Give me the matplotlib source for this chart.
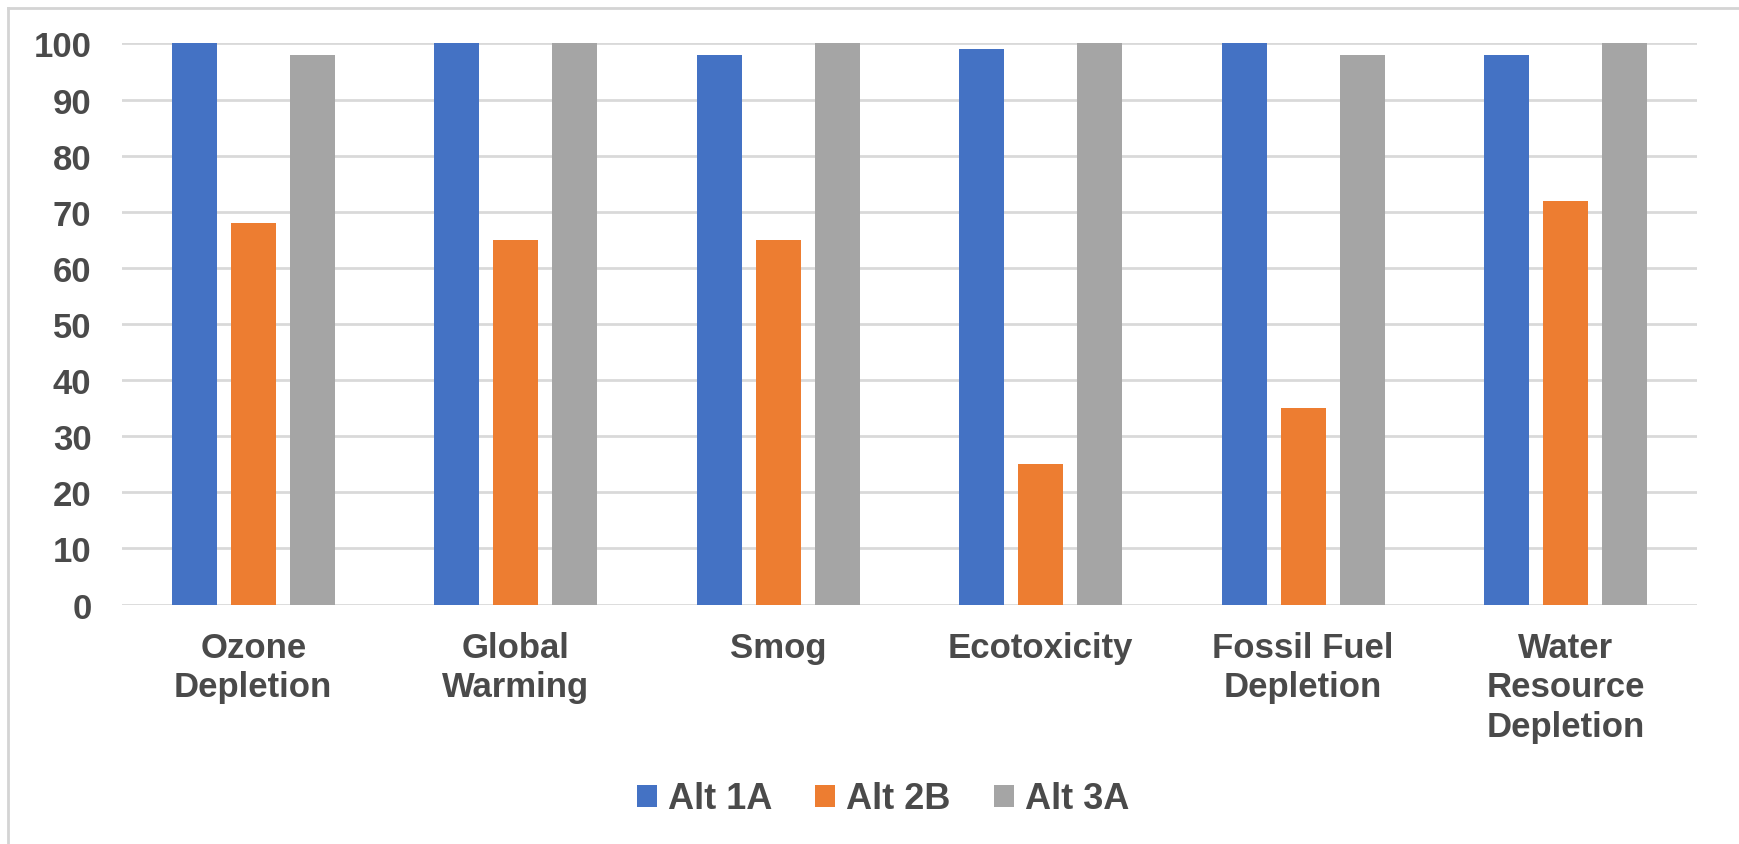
import numpy as np
import matplotlib
matplotlib.use("Agg")
import matplotlib.pyplot as plt
from matplotlib.patches import Patch
from matplotlib.lines import Line2D

# data
categories = ["Ozone\nDepletion", "Global\nWarming", "Smog", "Ecotoxicity",
              "Fossil Fuel\nDepletion", "Water\nResource\nDepletion"]
series_names = ["Alt 1A", "Alt 2B", "Alt 3A"]
alt_1a = [100, 100, 98, 99, 100, 98]
alt_2b = [68, 65, 65, 25, 35, 72]
alt_3a = [98, 100, 100, 100, 98, 100]
y_ticks = [0, 10, 20, 30, 40, 50, 60, 70, 80, 90, 100]

colors = ["#4472C4", "#ED7D31", "#A5A5A5"]
text_color = "#4a4a4a"
plt.rcParams["font.family"] = ["Liberation Sans", "DejaVu Sans"]
plt.rcParams["font.weight"] = "bold"

fig = plt.figure(figsize=(17.39, 8.45), dpi=100)
fig.patch.set_facecolor("white")
ax = fig.add_axes([122 / 1739, 239.4 / 845, 1575 / 1739, 561.2 / 845])

x = np.arange(len(categories))
width = 0.172
offset = 0.225
for i, (vals, name) in enumerate(zip([alt_1a, alt_2b, alt_3a], series_names)):
    ax.bar(x + (i - 1) * offset, vals, width, color=colors[i], label=name, zorder=3)

ax.set_xlim(-0.5, len(categories) - 0.5)
ax.set_ylim(0, 100)
ax.set_yticks(y_ticks)
ax.set_xticks(x)
ax.set_xticklabels(categories, linespacing=1.25)
ax.yaxis.grid(True, color="#d9d9d9", linewidth=2, zorder=0)
ax.set_axisbelow(True)
for s in ax.spines.values():
    s.set_visible(False)
ax.tick_params(axis="y", length=0, pad=22, labelsize=25, labelcolor=text_color)
ax.tick_params(axis="x", length=0, pad=19, labelsize=25, labelcolor=text_color)

handles = [Patch(facecolor=c, edgecolor="none") for c in colors]
leg = fig.legend(handles, series_names, loc="center", bbox_to_anchor=(883 / 1739, 1 - 800 / 845),
                 ncol=3, frameon=False, fontsize=26, handlelength=0.55, handleheight=0.55,
                 handletextpad=0.3, columnspacing=1.2)
for t in leg.get_texts():
    t.set_color(text_color)

# light border of the chart box
fig.add_artist(Line2D([8 / 1739, 8 / 1739], [0, 1 - 9 / 845], color="#d4d4d4", lw=2,
                      transform=fig.transFigure))
fig.add_artist(Line2D([8 / 1739, 1], [1 - 9 / 845, 1 - 9 / 845], color="#d4d4d4", lw=2,
                      transform=fig.transFigure))

fig.savefig("out.png", dpi=100)
